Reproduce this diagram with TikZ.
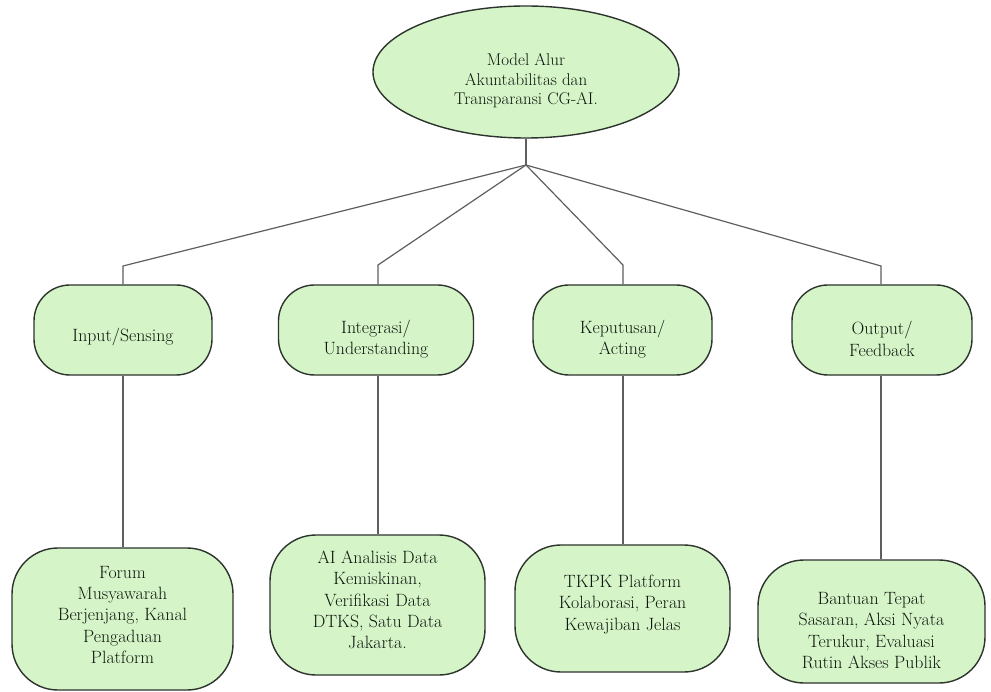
\documentclass[tikz,border=0pt]{standalone}
\usetikzlibrary{shapes.geometric}
\definecolor{boxfill}{RGB}{213,245,200}
\definecolor{boxline}{RGB}{45,52,45}
\definecolor{conline}{RGB}{95,95,95}
\definecolor{txt}{RGB}{15,22,15}
\tikzset{
  shapebox/.style={draw=boxline, line width=1.4pt, fill=boxfill, inner sep=0pt},
  midbox/.style={shapebox, rectangle, rounded corners=36pt, minimum height=90pt},
  lowbox/.style={shapebox, rectangle, rounded corners=46pt},
  inlabel/.style={align=center, text=txt, font=\fontsize{17.8}{21.3}\selectfont},
  conn/.style={draw=conline, line width=1.2pt}
}
\begin{document}
\begin{tikzpicture}[x=1pt,y=-1pt]
\useasboundingbox[fill=white] (0,0) rectangle (991,692);
% top ellipse
\node[shapebox, ellipse, minimum width=306pt, minimum height=132pt,
  label={[inlabel, font=\fontsize{17}{19.5}\selectfont, yshift=-9pt]center:Model Alur\\Akuntabilitas dan\\Transparansi CG-AI.}] (top) at (526,72) {};
% middle boxes
\node[midbox, minimum width=178pt, label={[inlabel, yshift=-7pt]center:Input/Sensing}] (m1) at (123,330) {};
\node[midbox, minimum width=195pt, label={[inlabel, yshift=-9pt]center:Integrasi/\\Understanding}] (m2) at (376,330) {};
\node[midbox, minimum width=179pt, label={[inlabel, yshift=-9pt]center:Keputusan/\\Acting}] (m3) at (622.5,330) {};
\node[midbox, minimum width=180pt, label={[inlabel, yshift=-9pt]center:Output/\\Feedback}] (m4) at (882,330) {};
% bottom boxes
\node[lowbox, minimum width=221pt, minimum height=142pt, label={[inlabel, yshift=4pt]center:Forum\\Musyawarah\\Berjenjang, Kanal\\Pengaduan\\Platform}] (b1) at (122.5,619) {};
\node[lowbox, minimum width=215pt, minimum height=140pt, label={[inlabel, yshift=5pt]center:AI Analisis Data\\Kemiskinan,\\Verifikasi Data\\DTKS, Satu Data\\Jakarta.}] (b2) at (377.5,605) {};
\node[lowbox, minimum width=215pt, minimum height=127pt, label={[inlabel, yshift=4pt]center:TKPK Platform\\Kolaborasi, Peran\\Kewajiban Jelas}] (b3) at (622.5,608.5) {};
\node[lowbox, minimum width=227pt, minimum height=123pt, label={[inlabel, yshift=-9pt]center:Bantuan Tepat\\Sasaran, Aksi Nyata\\Terukur, Evaluasi\\Rutin Akses Publik}] (b4) at (871.5,621.5) {};
% connector points
\coordinate (J) at (526,165);
\coordinate (k1) at (123,266);
\coordinate (k2) at (378,265);
\coordinate (k3) at (623,265);
\coordinate (k4) at (881,266);
% connectors
\draw[conn] (top.south) -- (J);
\draw[conn] (J) -- (k1) -- (k1 |- m1.north);
\draw[conn] (J) -- (k2) -- (k2 |- m2.north);
\draw[conn] (J) -- (k3) -- (k3 |- m3.north);
\draw[conn] (J) -- (k4) -- (k4 |- m4.north);
\draw[conn] (k1 |- m1.south) -- (k1 |- b1.north);
\draw[conn] (k2 |- m2.south) -- (k2 |- b2.north);
\draw[conn] (k3 |- m3.south) -- (k3 |- b3.north);
\draw[conn] (k4 |- m4.south) -- (k4 |- b4.north);
\end{tikzpicture}
\end{document}
